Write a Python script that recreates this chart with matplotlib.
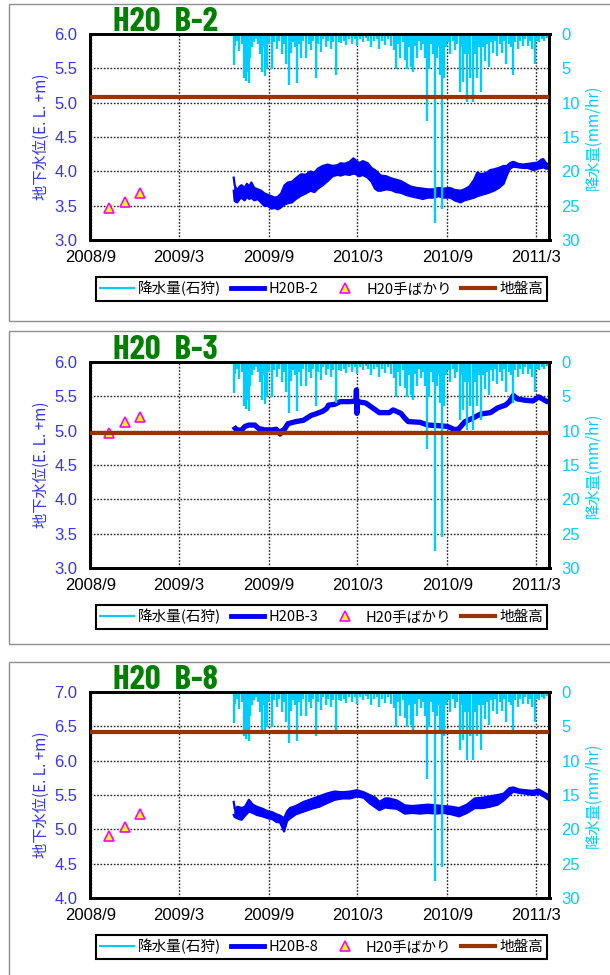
import numpy as np
import matplotlib
matplotlib.use('Agg')
import matplotlib.pyplot as plt
from matplotlib.lines import Line2D
from matplotlib.patches import Rectangle

# ---- data ----
base = np.datetime64('2008-09-01')

tick_dates = ['2008-09-01', '2009-03-01', '2009-09-01', '2010-03-01', '2010-09-01', '2011-03-01']
tick_labels = ['2008/9', '2009/3', '2009/9', '2010/3', '2010/9', '2011/3']
x_end = '2011-03-29'

# hourly rainfall (Ishikari), days after 2008-09-01, mm/hr
rain_day = [293, 296, 300, 304, 309, 313, 316, 319, 321, 324, 327, 331, 335, 339, 343, 347,
            350, 354, 358, 362, 366, 372, 376, 381, 386, 391, 395, 400, 406, 410, 414, 418,
            422, 426, 430, 435, 441, 446, 451, 456, 461, 466, 471, 476, 481, 486, 492, 497,
            503, 508, 512, 518, 523, 529, 535, 541, 546, 552, 558, 563, 568, 574, 580, 586,
            591, 597, 603, 608, 614, 620, 625, 629, 634, 639, 643, 648, 652, 656, 660, 664,
            668, 672, 676, 680, 684, 688, 692, 696, 700, 705, 709, 713, 716, 720, 723, 727,
            731, 736, 741, 745, 750, 756, 760, 763, 767, 770, 774, 777, 783, 786, 790, 795,
            799, 803, 807, 811, 815, 819, 823, 828, 832, 837, 841, 846, 851, 856, 860, 865,
            869, 874, 879, 884, 889, 894, 899, 904, 910, 914, 918, 923, 928, 933, 938]
rain_mm = [4.5, 1.8, 1.0, 2.5, 1.5, 6.5, 4.0, 6.8, 5.5, 7.1, 3.6, 2.0, 1.2, 0.8, 1.5, 3.0,
           5.6, 2.0, 6.1, 5.1, 1.5, 5.1, 1.2, 2.2, 1.0, 2.9, 1.5, 4.4, 7.5, 2.8, 1.2, 2.0,
           7.1, 1.5, 3.6, 1.0, 3.6, 1.5, 2.4, 1.0, 6.5, 1.5, 2.6, 0.8, 2.0, 1.0, 2.2, 1.2,
           6.0, 1.2, 1.3, 1.0, 1.6, 0.8, 1.5, 0.8, 1.8, 0.8, 1.2, 0.6, 1.0, 2.0, 1.0, 0.8,
           2.2, 1.0, 1.6, 0.8, 1.8, 2.4, 5.1, 1.5, 3.6, 1.2, 3.8, 5.1, 2.0, 4.9, 5.6, 1.8,
           3.6, 1.0, 2.4, 1.5, 3.5, 12.7, 5.1, 1.5, 3.0, 27.5, 3.6, 2.0, 6.0, 25.5, 6.5, 2.0,
           1.2, 2.9, 1.0, 2.4, 1.5, 8.5, 2.0, 7.0, 3.0, 9.9, 3.0, 6.5, 9.9, 3.0, 6.5, 2.0,
           8.5, 2.0, 4.0, 1.5, 4.8, 1.2, 2.8, 1.0, 3.2, 1.5, 2.8, 1.0, 4.4, 1.5, 2.0, 6.0,
           1.2, 2.2, 1.0, 1.8, 0.8, 1.8, 1.0, 2.2, 4.4, 1.0, 1.2, 0.8, 1.0, 0.6, 0.5]

# manual measurements (H20手ばかり), days after 2008-09-01
hand_day = [37, 71, 101]

# H20B-2 : daily low / high envelope
b2_day = [293, 295, 300, 305, 309, 315, 320, 325, 329, 335, 342, 349, 356, 363, 370, 377,
          383, 390, 397, 404, 412, 420, 431, 440, 450, 458, 465, 475, 485, 495, 505, 512,
          520, 530, 538, 543, 550, 557, 567, 575, 582, 588, 594, 605, 615, 625, 635, 645,
          655, 668, 680, 690, 702, 712, 722, 736, 745, 757, 765, 775, 785, 791, 800, 810,
          818, 825, 835, 845, 852, 858, 865, 875, 885, 895, 906, 915, 922, 926, 932, 937]
b2_lo = [3.72, 3.57, 3.55, 3.60, 3.62, 3.58, 3.63, 3.60, 3.62, 3.58, 3.60, 3.55, 3.50, 3.50,
         3.46, 3.47, 3.45, 3.48, 3.52, 3.54, 3.55, 3.60, 3.65, 3.68, 3.72, 3.70, 3.75, 3.80,
         3.86, 3.93, 3.95, 3.94, 3.96, 3.95, 3.97, 3.96, 3.93, 3.95, 3.91, 3.85, 3.75, 3.72,
         3.72, 3.74, 3.73, 3.70, 3.69, 3.66, 3.64, 3.62, 3.60, 3.62, 3.62, 3.64, 3.62, 3.62,
         3.58, 3.55, 3.58, 3.60, 3.62, 3.64, 3.66, 3.68, 3.70, 3.72, 3.76, 3.82, 3.95, 4.04,
         4.07, 4.06, 4.05, 4.05, 4.02, 4.04, 4.05, 4.06, 4.04, 4.04]
b2_hi = [3.91, 3.80, 3.72, 3.78, 3.80, 3.76, 3.82, 3.78, 3.84, 3.76, 3.74, 3.72, 3.68, 3.66,
         3.64, 3.62, 3.63, 3.68, 3.80, 3.84, 3.85, 3.90, 3.96, 3.95, 4.00, 3.98, 4.04, 4.08,
         4.10, 4.08, 4.09, 4.12, 4.11, 4.14, 4.19, 4.16, 4.12, 4.15, 4.12, 4.05, 4.02, 3.98,
         3.94, 3.93, 3.90, 3.88, 3.86, 3.82, 3.78, 3.76, 3.75, 3.74, 3.74, 3.76, 3.75, 3.76,
         3.73, 3.72, 3.74, 3.78, 3.88, 3.98, 3.96, 3.98, 4.02, 4.03, 4.05, 4.08, 4.08, 4.12,
         4.14, 4.11, 4.10, 4.11, 4.12, 4.13, 4.17, 4.18, 4.12, 4.10]
b2_hand = [3.47, 3.56, 3.69]
b2_ground = 5.08

# H20B-3 : smooth record
b3_day = [293, 296, 301, 308, 316, 324, 336, 344, 356, 372, 380, 388, 392, 396, 404, 420,
          436, 451, 460, 475, 483, 487, 499, 511, 531, 543, 544, 545, 546, 563, 571, 579,
          591, 611, 619, 635, 643, 650, 674, 690, 714, 730, 746, 754, 766, 782, 798, 818,
          833, 849, 857, 865, 873, 889, 905, 917, 929, 937]
b3_val = [5.06, 5.03, 5.01, 5.00, 5.06, 5.08, 5.08, 5.03, 5.01, 5.01, 5.02, 4.95, 5.00, 5.01,
          5.10, 5.13, 5.15, 5.22, 5.24, 5.28, 5.32, 5.37, 5.38, 5.42, 5.42, 5.43, 5.59, 5.25,
          5.42, 5.40, 5.36, 5.32, 5.26, 5.26, 5.30, 5.25, 5.18, 5.13, 5.12, 5.08, 5.07, 5.06,
          5.01, 5.03, 5.13, 5.18, 5.24, 5.26, 5.33, 5.37, 5.42, 5.51, 5.46, 5.44, 5.43, 5.49,
          5.44, 5.41]
b3_hand = [4.96, 5.13, 5.20]
b3_ground = 4.96

# H20B-8 : daily low / high envelope
b8_day = [293, 295, 301, 309, 316, 324, 332, 340, 352, 364, 372, 380, 388, 396, 402, 408,
          420, 436, 452, 468, 483, 499, 515, 531, 545, 559, 571, 583, 591, 603, 611, 627,
          643, 658, 674, 690, 706, 722, 738, 754, 770, 786, 802, 817, 833, 845, 857, 865,
          877, 889, 905, 917, 929, 937]
b8_lo = [5.21, 5.18, 5.16, 5.14, 5.20, 5.26, 5.24, 5.21, 5.19, 5.16, 5.15, 5.11, 5.10, 4.97,
         5.12, 5.16, 5.22, 5.26, 5.30, 5.33, 5.38, 5.43, 5.45, 5.45, 5.48, 5.46, 5.38, 5.32,
         5.28, 5.32, 5.31, 5.30, 5.23, 5.24, 5.23, 5.24, 5.23, 5.24, 5.22, 5.19, 5.24, 5.31,
         5.31, 5.33, 5.36, 5.42, 5.50, 5.55, 5.53, 5.52, 5.50, 5.52, 5.47, 5.43]
b8_hi = [5.40, 5.30, 5.33, 5.31, 5.33, 5.43, 5.36, 5.33, 5.30, 5.26, 5.25, 5.22, 5.20, 5.16,
         5.26, 5.31, 5.34, 5.40, 5.44, 5.48, 5.52, 5.55, 5.54, 5.55, 5.57, 5.54, 5.50, 5.46,
         5.40, 5.45, 5.45, 5.42, 5.35, 5.34, 5.35, 5.36, 5.35, 5.34, 5.33, 5.31, 5.36, 5.45,
         5.46, 5.48, 5.50, 5.52, 5.60, 5.61, 5.58, 5.57, 5.56, 5.58, 5.53, 5.50]
b8_hand = [4.91, 5.04, 5.22]
b8_ground = 6.41

# ---- styling ----
W, H = 610, 975
C_RAIN = '#00ccff'
C_WELL = '#0000ff'
C_LEFT = '#3333ff'
C_GROUND = '#993300'
CJK = ['Noto Sans CJK JP', 'DejaVu Sans']
TICKF = ['Liberation Sans Narrow', 'Liberation Sans', 'DejaVu Sans']
TITLEF = ['Barlow Condensed', 'Liberation Sans Narrow', 'Liberation Sans', 'DejaVu Sans']


def days(d):
    return base + np.array(d, dtype='timedelta64[D]')


fig = plt.figure(figsize=(W / 100, H / 100), dpi=100)


def panel(ax_top, frame_top, frame_bot, name, well_label, ylim, ground, hand,
          d, lo=None, hi=None, val=None):
    # grey frame around the panel
    fig.add_artist(Rectangle((8.6 / W, 1 - frame_bot / H), 1.0, (frame_bot - frame_top) / H,
                             transform=fig.transFigure, fill=False, ec='#909090', lw=1.0))
    ax = fig.add_axes([90.5 / W, 1 - (ax_top + 206.6) / H, 459 / W, 206.6 / H])
    ax2 = ax.twinx()

    x = days(d)
    if val is None:
        ax.fill_between(x, lo, hi, color=C_WELL, lw=0, zorder=2)
        ax.plot(x, lo, color=C_WELL, lw=1.6, zorder=2)
        ax.plot(x, hi, color=C_WELL, lw=1.6, zorder=2)
    else:
        ax.plot(x, val, color=C_WELL, lw=3.8, zorder=2, solid_capstyle='butt')
    ax.plot(days(hand_day), hand, ls='none', marker='^', ms=7, mfc='#ffff00',
            mec='#ff00ff', mew=1.2, zorder=3)

    ax2.vlines(days(rain_day), 0, rain_mm, color=C_RAIN, lw=1.7, zorder=2)
    ax2.plot([np.datetime64('2008-08-01'), np.datetime64('2011-05-01')], [ground, ground],
             color=C_GROUND, lw=3, transform=ax.transData, zorder=3)

    ax.set_xlim(np.datetime64('2008-09-01'), np.datetime64(x_end))
    ax.set_ylim(*ylim)
    yt = np.arange(ylim[0], ylim[1] + 0.01, 0.5)
    ax.set_yticks(yt)
    ax.set_yticklabels(['%.1f' % v for v in yt])
    ax.set_xticks([np.datetime64(t) for t in tick_dates])
    ax.set_xticklabels(tick_labels)
    ax2.set_ylim(30, 0)
    ax2.set_yticks(range(0, 31, 5))

    ax.grid(True, color='#222222', ls=(0, (1.2, 1.2)), lw=1.0)
    ax.set_axisbelow(True)
    for a in (ax, ax2):
        for s in a.spines.values():
            s.set_linewidth(2)
            s.set_color('black')
    ax.tick_params(axis='y', length=0, pad=9.5, labelcolor=C_LEFT, labelsize=12)
    ax.tick_params(axis='x', length=0, pad=7, labelcolor='black', labelsize=12)
    ax2.tick_params(axis='y', length=0, pad=8.5, labelcolor=C_RAIN, labelsize=12)
    for t in ax.get_xticklabels() + ax.get_yticklabels() + ax2.get_yticklabels():
        t.set_family(TICKF)

    yc = 1 - (ax_top + 103.3) / H
    fig.text(41 / W, yc, '地下水位(E. L. +m)', rotation=90, ha='center', va='center',
             color=C_LEFT, fontsize=11, family=CJK)
    fig.text(593 / W, yc, '降水量(mm/hr)', rotation=90, ha='center', va='center',
             color=C_RAIN, fontsize=11, family=CJK)
    fig.text(113 / W, 1 - (ax_top - 2.5) / H, name, ha='left', va='baseline',
             color='#007f00', fontsize=25, fontweight='bold', family=TITLEF)

    handles = [Line2D([], [], color=C_RAIN, lw=1.5),
               Line2D([], [], color=C_WELL, lw=3.5),
               Line2D([], [], ls='none', marker='^', ms=7, mfc='#ffff00', mec='#ff00ff', mew=1.2),
               Line2D([], [], color=C_GROUND, lw=3)]
    labels = ['降水量(石狩)', well_label, 'H20手ばかり', '地盤高']
    ly = ax_top + 255
    leg = fig.legend(handles, labels, loc='center', ncol=4, mode='expand',
                     bbox_to_anchor=(95.7 / W, 1 - (ly + 11.7) / H, 451.7 / W, 23.3 / H),
                     frameon=True, fancybox=False, edgecolor='black', framealpha=1,
                     prop={'family': CJK, 'size': 10.5}, handlelength=2.3,
                     handletextpad=0.3, borderpad=0.3, borderaxespad=0, columnspacing=0.8)
    leg.get_frame().set_linewidth(1.5)


panel(33.7, 4, 321, 'H20  B-2', 'H20B-2', (3.0, 6.0), b2_ground, b2_hand,
      b2_day, lo=b2_lo, hi=b2_hi)
panel(361.7, 331, 644, 'H20  B-3', 'H20B-3', (3.0, 6.0), b3_ground, b3_hand,
      b3_day, val=b3_val)
panel(691.7, 662, 990, 'H20  B-8', 'H20B-8', (4.0, 7.0), b8_ground, b8_hand,
      b8_day, lo=b8_lo, hi=b8_hi)

fig.savefig('out.png', dpi=100)
